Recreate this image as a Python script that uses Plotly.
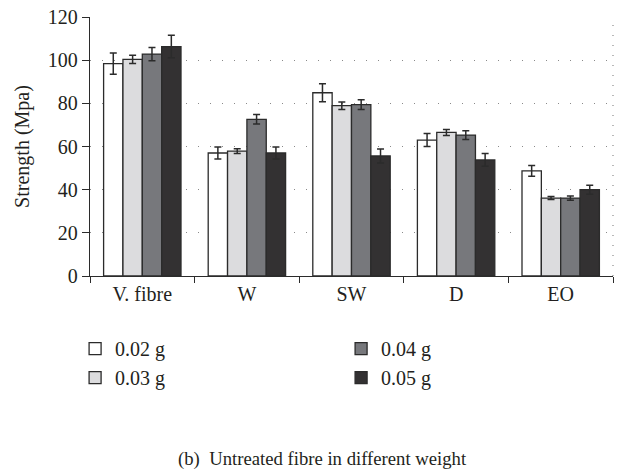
import plotly.graph_objects as go

categories = ["V. fibre", "W", "SW", "D", "EO"]
series_names = ["0.02 g", "0.03 g", "0.04 g", "0.05 g"]
values = {
    "0.02 g": [98.4, 57.0, 84.9, 63.0, 48.7],
    "0.03 g": [100.4, 57.9, 78.9, 66.5, 36.1],
    "0.04 g": [102.8, 72.6, 79.4, 65.3, 36.1],
    "0.05 g": [106.3, 57.0, 55.6, 53.8, 40.0],
}
errors = {
    "0.02 g": [4.9, 2.8, 4.2, 3.0, 2.5],
    "0.03 g": [1.9, 1.1, 1.7, 1.4, 0.7],
    "0.04 g": [3.1, 2.2, 2.3, 2.0, 1.0],
    "0.05 g": [5.2, 2.8, 3.2, 2.9, 2.1],
}
colors = ["#ffffff", "#dcdcde", "#77787c", "#333132"]
legend_ranks = [1, 3, 2, 4]

FONT = "Liberation Serif"
FS = 20
TXT = "#231f20"

fig = go.Figure()
for name, col, rank in zip(series_names, colors, legend_ranks):
    fig.add_trace(go.Bar(
        x=categories, y=values[name], name=name,
        marker=dict(color=col, line=dict(color="#2b2b2b", width=1.3)),
        error_y=dict(type="data", array=errors[name], color="#2b2b2b",
                     thickness=1.5, width=3.5),
        legendrank=rank,
    ))

fig.update_layout(
    width=619, height=473,
    margin=dict(l=90, r=6, t=15, b=197),
    paper_bgcolor="white", plot_bgcolor="white",
    barmode="group", bargap=0.26, bargroupgap=0,
    font=dict(family=FONT, size=FS, color=TXT),
    showlegend=True,
    legend=dict(orientation="h", x=-0.0285, xanchor="left", y=-0.205, yanchor="top",
                entrywidth=221, entrywidthmode="pixels",
                font=dict(family=FONT, size=FS, color=TXT),
                bgcolor="rgba(0,0,0,0)", traceorder="normal"),
    xaxis=dict(showline=True, linecolor="#2b2b2b", linewidth=1.3,
               ticks="outside", ticklen=6, tickcolor="#2b2b2b", tickwidth=1.3,
               tickson="boundaries", showgrid=False,
               tickfont=dict(family=FONT, size=FS, color=TXT)),
    yaxis=dict(range=[0, 120], dtick=20, showline=True, linecolor="#2b2b2b",
               linewidth=1.3, ticks="outside", ticklen=7, tickcolor="#2b2b2b",
               tickwidth=1.3, showgrid=True, gridcolor="#8a8a8a", gridwidth=1.2,
               griddash="1px,11px", zeroline=False,
               tickfont=dict(family=FONT, size=FS, color=TXT)),
    shapes=[dict(type="line", xref="paper", yref="paper", x0=1, x1=1, y0=0, y1=1,
                 line=dict(color="#8a8a8a", width=1.2, dash="1px,9px"))],
    annotations=[dict(text="(b)  Untreated fibre in different weight",
                      xref="paper", yref="paper", x=0.445, y=-0.705,
                      xanchor="center", yanchor="middle", showarrow=False,
                      font=dict(family=FONT, size=18.7, color=TXT))],
)
fig.update_yaxes(title=dict(text="Strength (Mpa)", standoff=12,
                            font=dict(family=FONT, size=FS, color=TXT)))

fig.write_html("out.html")
